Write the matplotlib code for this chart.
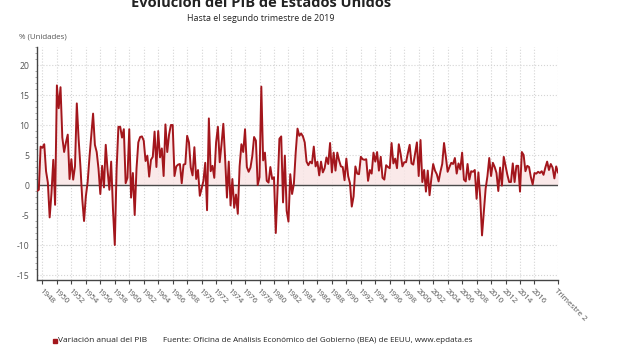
import matplotlib
matplotlib.use("Agg")
import matplotlib.pyplot as plt
from matplotlib.patches import Rectangle
from matplotlib.ticker import MultipleLocator
import numpy as np

plt.rcParams['font.family'] = ['Open Sans', 'DejaVu Sans']

# Quarterly annualized real GDP growth (%), 1947 Q2 .. 2019 Q2
gdp_1947_1959 = [
    -1.0, -0.8, 6.4,
    6.2, 6.8, 2.3, 0.4,
    -5.4, -1.4, 4.2, -3.3,
    16.6, 12.8, 16.3, 7.9,
    5.5, 7.1, 8.4, 1.0,
    4.3, 0.9, 3.1, 13.6,
    7.7, 3.1, -2.3, -6.0,
    -1.9, 0.5, 4.6, 8.2,
    11.9, 6.7, 5.5, 2.7,
    -1.5, 3.2, -0.4, 6.7,
    2.5, -0.8, 3.9, -4.1,
    -10.0, 2.6, 9.7, 9.7,
    7.9, 9.3, 0.3, 1.2,
]
gdp_1960_1979 = [
    9.3, -2.1, 2.0, -5.0,
    2.7, 7.1, 8.0, 8.1,
    7.4, 4.0, 4.9, 1.4,
    4.2, 4.7, 8.9, 3.0,
    9.0, 4.6, 6.1, 1.5,
    10.1, 5.5, 8.4, 10.0,
    10.0, 1.5, 3.1, 3.4,
    3.5, 0.3, 3.4, 3.5,
    8.2, 7.1, 2.9, 1.6,
    6.3, 1.0, 2.5, -1.8,
    -0.6, 0.7, 3.7, -4.2,
    11.1, 2.3, 3.2, 1.2,
    7.1, 9.7, 3.8, 6.8,
    10.2, 4.4, -2.1, 3.9,
    -3.4, 1.0, -3.8, -1.6,
    -4.8, 3.1, 6.8, 5.5,
    9.3, 3.0, 2.2, 2.9,
    4.8, 8.0, 7.4, 0.0,
    1.3, 16.4, 4.1, 5.4,
    0.7, 0.4, 3.0, 1.0,
]
gdp_1980_1999 = [
    1.3, -8.0, -0.5, 7.7,
    8.1, -2.9, 4.9, -4.3,
    -6.1, 1.8, -1.5, 0.2,
    5.4, 9.4, 8.2, 8.6,
    8.1, 7.1, 3.9, 3.3,
    3.9, 3.6, 6.4, 3.1,
    3.9, 1.6, 3.9, 2.1,
    2.8, 4.6, 3.5, 7.0,
    2.1, 5.4, 2.4, 5.4,
    4.1, 3.1, 3.0, 0.8,
    4.4, 1.5, 0.3, -3.6,
    -1.9, 3.1, 1.9, 1.8,
    4.7, 4.3, 4.2, 4.3,
    0.7, 2.5, 1.9, 5.4,
    3.9, 5.5, 2.4, 4.7,
    1.2, 0.9, 3.3, 3.0,
    2.8, 7.0, 3.6, 4.4,
    2.8, 6.8, 5.2, 3.1,
    3.8, 3.8, 5.3, 6.7,
    3.6, 3.4, 5.2, 7.1,
]
gdp_2000_2019 = [
    1.5, 7.5, 0.5, 2.5,
    -1.1, 2.4, -1.7, 1.1,
    3.5, 2.4, 1.8, 0.6,
    2.2, 3.5, 7.0, 4.7,
    2.2, 3.0, 3.7, 3.5,
    4.5, 1.9, 3.6, 2.6,
    5.4, 0.9, 0.6, 3.5,
    0.9, 2.3, 2.2, 2.5,
    -2.3, 2.1, -2.1, -8.4,
    -4.4, -0.6, 1.5, 4.5,
    1.5, 3.7, 3.0, 2.0,
    -1.0, 2.9, -0.1, 4.7,
    3.2, 1.7, 0.5, 0.5,
    3.6, 0.5, 3.2, 3.2,
    -1.1, 5.5, 5.0, 2.3,
    3.2, 3.0, 1.3, 0.1,
    2.0, 1.9, 2.2, 2.0,
    2.3, 1.7, 2.9, 3.9,
    2.5, 3.5, 2.9, 1.1,
    3.1, 2.1,
]
values = gdp_1947_1959 + gdp_1960_1979 + gdp_1980_1999 + gdp_2000_2019

tick_years = [str(y) for y in range(1948, 2017, 2)]
last_label = "Trimestre 2"

title = "Evolución del PIB de Estados Unidos"
subtitle = "Hasta el segundo trimestre de 2019"
unit_label = "% (Unidades)"
legend_label = "Variación anual del PIB"
source = "Fuente: Oficina de Análisis Económico del Gobierno (BEA) de EEUU, www.epdata.es"

W, H = 620, 350
fig = plt.figure(figsize=(W / 100, H / 100), dpi=100)
ax_l, ax_r, ax_t, ax_b = 37, 558, 47, 280
ax = fig.add_axes([ax_l / W, 1 - ax_b / H, (ax_r - ax_l) / W, (ax_b - ax_t) / H])

x = np.arange(len(values))
line_color = '#a3161c'
ax.fill_between(x, values, 0, color='#f9e4e4', alpha=0.8, linewidth=0, zorder=1)
ax.axhline(0, color='#4a4a4a', lw=1.0, zorder=2)
ax.plot(x, values, color=line_color, lw=1.4, zorder=3)

ax.set_xlim(0, len(values) - 1)
ax.set_ylim(-15.83, 23)

tick_pos = [3 + 8 * i for i in range(len(tick_years))] + [len(values) - 1]
ax.set_xticks(tick_pos)
ax.set_xticklabels(tick_years + [last_label], rotation=-45, ha='left', va='top',
                   rotation_mode='anchor', fontsize=5.8, color='#555555')
ax.set_yticks(range(-15, 21, 5))
ax.set_yticklabels([str(v) for v in range(-15, 21, 5)], fontsize=6.2, color='#555555')
ax.yaxis.set_minor_locator(MultipleLocator(1))

ax.grid(True, which='major', color='#d4d4d4', linestyle=':', linewidth=0.8, zorder=0)
for s in ['top', 'right']:
    ax.spines[s].set_visible(False)
for s in ['left', 'bottom']:
    ax.spines[s].set_color('#444444')
    ax.spines[s].set_linewidth(1.0)
ax.tick_params(axis='x', length=3, color='#444444', pad=2.5)
ax.tick_params(axis='y', which='major', length=0, pad=5.5)
ax.tick_params(axis='y', which='minor', length=1.5, color='#999999')
ax.set_axisbelow(True)

fig.text(261 / W, 1 - 7 / H, title, ha='center', va='baseline', fontsize=10.5,
         fontweight='bold', color='#222222')
fig.text(261 / W, 1 - 21 / H, subtitle, ha='center', va='baseline', fontsize=6.4,
         color='#222222')
fig.text(19 / W, 1 - 39 / H, unit_label, ha='left', va='baseline', fontsize=5.7,
         color='#555555')

fig.patches.append(Rectangle((53 / W, 1 - 342.5 / H), 4 / W, 4 / H,
                             transform=fig.transFigure, color=line_color))
fig.text(58 / W, 1 - 340.5 / H, legend_label, ha='left', va='center', fontsize=6,
         color='#222222')
fig.text(163 / W, 1 - 340.5 / H, source, ha='left', va='center', fontsize=5.8,
         color='#222222')

fig.savefig('out.png', dpi=100)
